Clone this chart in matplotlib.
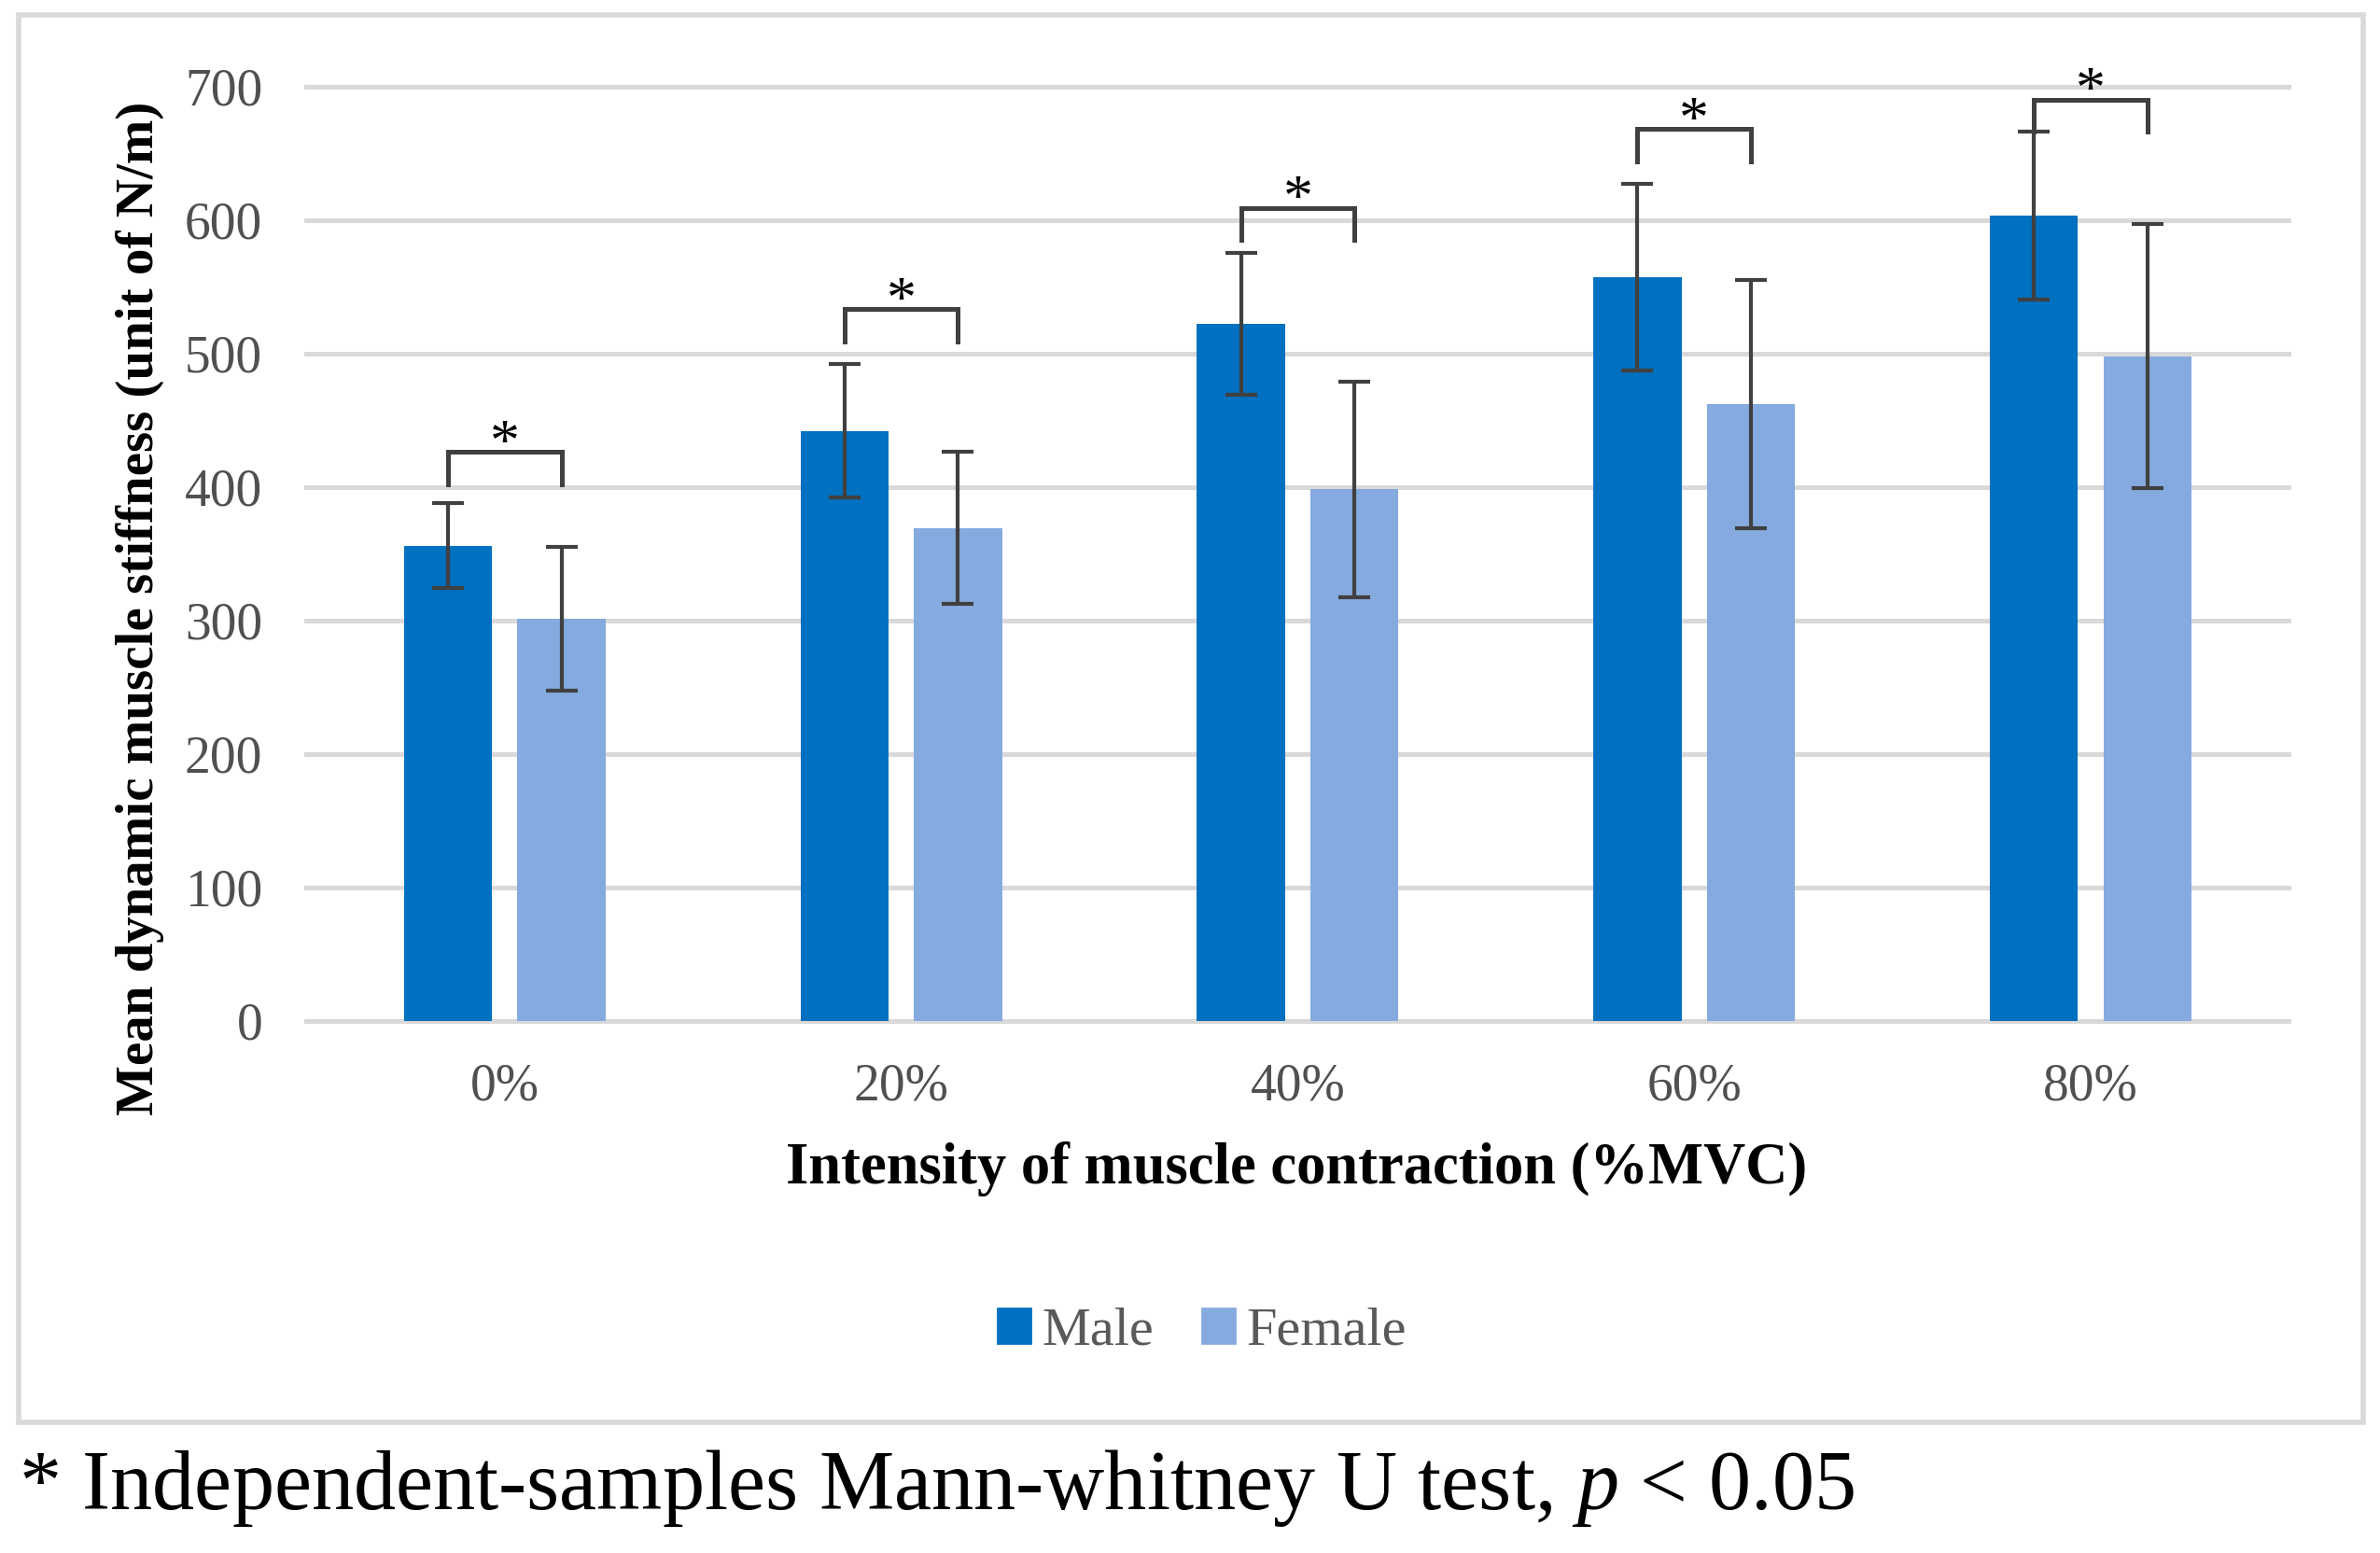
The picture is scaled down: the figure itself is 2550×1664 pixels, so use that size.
import matplotlib
matplotlib.use('Agg')
import matplotlib.pyplot as plt
import numpy as np
from matplotlib.patches import Rectangle, Patch

# values
intensity = ['0%', '20%', '40%', '60%', '80%']
male_mean = [356, 442, 522, 557, 603]
male_sd = [32, 50, 53, 70, 63]
female_mean = [301, 369, 398, 462, 498]
female_sd = [54, 57, 81, 93, 99]
# height of the significance brackets (same units as y)
sig_bracket_y = [426, 533, 609, 668, 690]

plt.rcParams['font.family'] = ['Liberation Serif', 'DejaVu Serif']
plt.rcParams['mathtext.fontset'] = 'custom'
plt.rcParams['mathtext.rm'] = 'Liberation Serif'
plt.rcParams['mathtext.it'] = 'Liberation Serif:italic'

male_color = '#0070C0'
female_color = '#85AADF'
err_color = '#404040'
grid_color = '#D9D9D9'
text_gray = '#595959'

fig = plt.figure(figsize=(12.75, 8.32), dpi=200)
ax = fig.add_axes([0.1288, 0.3428, 0.8329, 0.6015])

x = np.arange(len(intensity))
bar_w = 0.222
off = 0.143
error_kw = {'capsize': 6, 'capthick': 1.5, 'elinewidth': 1.5, 'ecolor': err_color}

ax.bar(x - off, male_mean, bar_w, yerr=male_sd, color=male_color, error_kw=error_kw, zorder=3)
ax.bar(x + off, female_mean, bar_w, yerr=female_sd, color=female_color, error_kw=error_kw, zorder=3)

# significance brackets
drop = 24
for i, top in enumerate(sig_bracket_y):
    ax.plot([x[i] - off, x[i] - off, x[i] + off, x[i] + off],
            [top - drop, top, top, top - drop],
            color=err_color, lw=1.8, clip_on=False, zorder=4,
            solid_joinstyle='miter')
    ax.annotate('*', (x[i], top), xytext=(0, -3), textcoords='offset points',
                ha='center', va='baseline', fontsize=23, color='black',
                annotation_clip=False)

ax.set_xlim(-0.5, len(intensity) - 0.5)
ax.set_ylim(0, 700)
ax.set_yticks(range(0, 701, 100))
ax.set_xticks(x)
ax.set_xticklabels(intensity)
ax.tick_params(axis='both', length=0, labelsize=20, labelcolor='#505050')
ax.tick_params(axis='x', pad=16)
ax.tick_params(axis='y', pad=17)
for s in ax.spines.values():
    s.set_visible(False)
ax.yaxis.grid(True, color=grid_color, lw=1.8, zorder=0)
for gl in ax.get_ygridlines():
    gl.set_clip_on(False)
ax.set_axisbelow(True)

fig.text(92 / 1568, 1 - 401 / 1024, 'Mean dynamic muscle stiffness (unit of N/m)',
         rotation=90, ha='center', va='center', fontsize=20.5, fontweight='bold')
fig.text(854 / 1568, 1 - 771 / 1024, 'Intensity of muscle contraction (%MVC)',
         ha='center', va='center', fontsize=22.5, fontweight='bold')

handles = [Patch(color=male_color, label='Male'), Patch(color=female_color, label='Female')]
fig.legend(handles=handles, loc='center', bbox_to_anchor=(792 / 1568, 1 - 878 / 1024),
           ncol=2, frameon=False, fontsize=21, handlelength=0.6, handleheight=0.6,
           handletextpad=0.2, columnspacing=0.9, labelcolor=text_gray)

# outer frame
fig.patches.append(Rectangle((12 / 1568, 1 - 938 / 1024), (1557 - 12) / 1568, (938 - 10) / 1024,
                             transform=fig.transFigure, fill=False, edgecolor=grid_color, lw=2))

fig.text(12 / 1568, 1 - 995 / 1024, '* Independent-samples Mann-whitney U test, $\\it{p}$ < 0.05',
         ha='left', va='baseline', fontsize=32.5)

fig.savefig('out.png', dpi=200)
